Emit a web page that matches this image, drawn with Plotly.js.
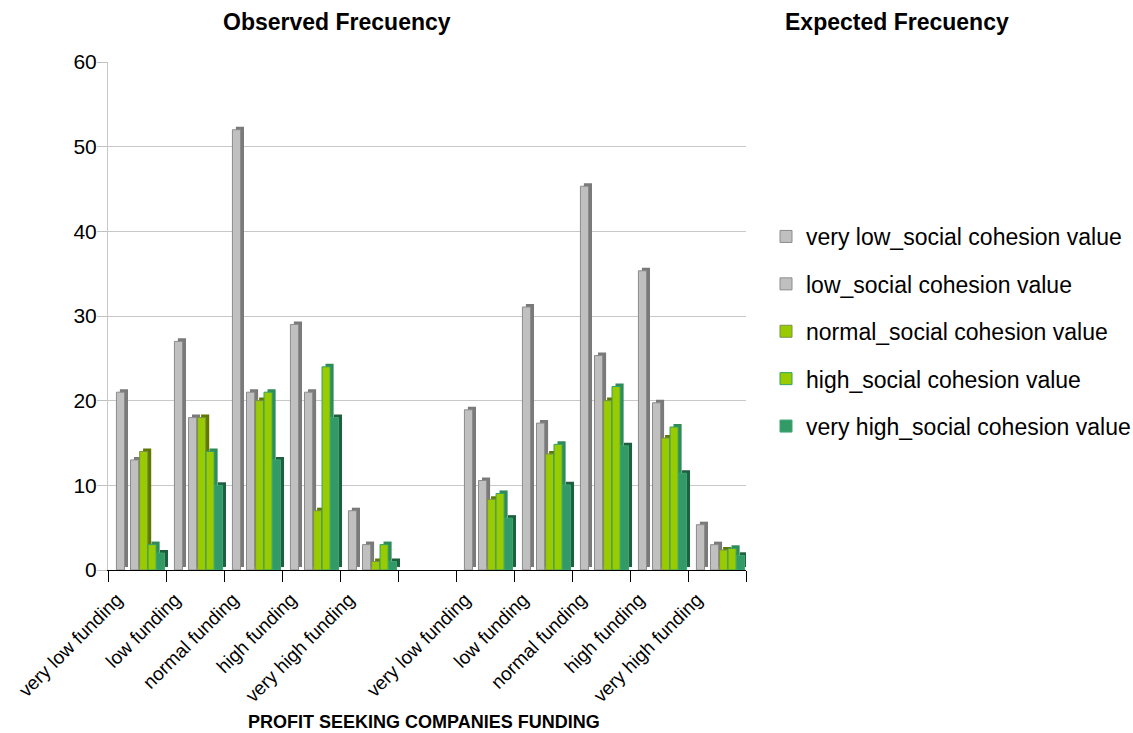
<!DOCTYPE html>
<html>
<head>
<meta charset="utf-8">
<script src="https://cdn.plot.ly/plotly-3.0.1.min.js"></script>
<style>
  html, body { margin: 0; padding: 0; background: #ffffff; }
  #chart { width: 1133px; height: 733px; }
</style>
</head>
<body>
<div id="chart"></div>
<script>
// Funding categories (same five levels for both panels)
const fundingLevels = ["very low funding", "low funding", "normal funding", "high funding", "very high funding"];

// Social cohesion series
const cohesionLevels = [
  "very low_social cohesion value",
  "low_social cohesion value",
  "normal_social cohesion value",
  "high_social cohesion value",
  "very high_social cohesion value"
];

// Observed frequencies, one array per cohesion level (ordered by funding level)
const observedVeryLow  = [21, 27, 52, 29, 7];
const observedLow      = [13, 18, 21, 21, 3];
const observedNormal   = [14, 18, 20, 7, 1];
const observedHigh     = [3, 14, 21, 24, 3];
const observedVeryHigh = [2, 10, 13, 18, 1];

// Expected frequencies, one array per cohesion level (ordered by funding level)
const expectedVeryLow  = [18.92, 31.06, 45.33, 35.34, 5.35];
const expectedLow      = [10.57, 17.35, 25.33, 19.75, 2.99];
const expectedNormal   = [8.35, 13.70, 20.00, 15.59, 2.36];
const expectedHigh     = [9.04, 14.84, 21.67, 16.89, 2.56];
const expectedVeryHigh = [6.12, 10.05, 14.67, 11.43, 1.73];

const observedSeries = [observedVeryLow, observedLow, observedNormal, observedHigh, observedVeryHigh];
const expectedSeries = [expectedVeryLow, expectedLow, expectedNormal, expectedHigh, expectedVeryHigh];

// Category slots on the x axis: observed block, an empty slot, expected block
const slotLabels = fundingLevels.concat([""], fundingLevels);
const observedSlots = fundingLevels.map((_, i) => i);
const expectedSlots = fundingLevels.map((_, i) => i + fundingLevels.length + 1);
const xSlots = observedSlots.concat(expectedSlots);

// Styling for each series: front face, outline, and the shaded side/top
const styles = [
  { face: "#c0c0c0", edge: "#8c8c8c", depth: "#7a7a7a", offset: -0.355 },
  { face: "#c0c0c0", edge: "#8c8c8c", depth: "#7a7a7a", offset: -0.112 },
  { face: "#99cc00", edge: "#7d8f4a", depth: "#5f7800", offset: 0.045 },
  { face: "#99cc00", edge: "#33a066", depth: "#2f8c58", offset: 0.19 },
  { face: "#339966", edge: "#3aa870", depth: "#1f5e3e", offset: 0.335 }
];

const barWidth = 0.14;
const depthX = 0.06;   // sideways shift of the shaded face, in category units
const depthY = 0.36;   // upward shift of the shaded face, in value units

const traces = [];
cohesionLevels.forEach((name, s) => {
  const values = observedSeries[s].concat(expectedSeries[s]);
  const st = styles[s];
  // shaded side and top of the bar
  traces.push({
    type: "bar",
    x: xSlots,
    y: values,
    base: depthY,
    offset: st.offset + depthX,
    width: barWidth,
    marker: { color: st.depth, line: { width: 0 } },
    showlegend: false,
    hoverinfo: "skip",
    xaxis: "x",
    yaxis: "y"
  });
  // front face
  traces.push({
    type: "bar",
    name: name,
    x: xSlots,
    y: values,
    offset: st.offset,
    width: barWidth,
    marker: { color: st.face, line: { color: st.edge, width: 1 } },
    legendgroup: "g" + s,
    xaxis: "x",
    yaxis: "y"
  });
});

// invisible trace carrying the boundary tick marks
traces.push({
  type: "scatter",
  x: [-0.5, slotLabels.length - 0.5],
  y: [0, 0],
  mode: "none",
  showlegend: false,
  hoverinfo: "skip",
  xaxis: "x2",
  yaxis: "y"
});

const FONT = "Liberation Sans, Arial, sans-serif";
const plotLeft = 108, plotRight = 746, plotTop = 62, plotBottom = 570;
const plotW = plotRight - plotLeft, plotH = plotBottom - plotTop;
const px2x = px => (px - plotLeft) / plotW;
const px2y = py => (plotBottom - py) / plotH;

const boundaryTicks = [];
for (let i = 0; i <= slotLabels.length; i++) boundaryTicks.push(i - 0.5);

const layout = {
  width: 1133,
  height: 733,
  margin: { l: plotLeft, r: 1133 - plotRight, t: plotTop, b: 733 - plotBottom, pad: 0 },
  paper_bgcolor: "#ffffff",
  plot_bgcolor: "#ffffff",
  barmode: "overlay",
  font: { family: FONT, color: "#000000" },
  xaxis: {
    range: [-0.5, slotLabels.length - 0.5],
    tickmode: "array",
    tickvals: slotLabels.map((_, i) => i),
    ticktext: slotLabels,
    tickangle: -45,
    ticks: "",
    ticklabelstandoff: 10,
    ticklabelshift: -20,
    tickfont: { family: FONT, size: 19, color: "#000000" },
    showgrid: false,
    zeroline: false,
    showline: true,
    linecolor: "#000000",
    linewidth: 1,
    fixedrange: true
  },
  xaxis2: {
    overlaying: "x",
    matching: "x",
    range: [-0.5, slotLabels.length - 0.5],
    tickmode: "array",
    tickvals: boundaryTicks,
    ticks: "outside",
    ticklen: 11,
    tickcolor: "#000000",
    showticklabels: false,
    showgrid: false,
    zeroline: false,
    showline: false
  },
  yaxis: {
    range: [0, 60],
    tickmode: "array",
    tickvals: [0, 10, 20, 30, 40, 50, 60],
    ticks: "outside",
    ticklen: 10,
    ticklabelstandoff: -4,
    tickcolor: "#c0c0c0",
    tickfont: { family: FONT, size: 21, color: "#000000" },
    showgrid: true,
    gridcolor: "#c8c8c8",
    gridwidth: 1,
    zeroline: false,
    showline: true,
    linecolor: "#c8c8c8",
    fixedrange: true
  },
  legend: {
    xref: "container",
    yref: "container",
    x: 766 / 1133,
    y: 1 - 215 / 733,
    xanchor: "left",
    yanchor: "top",
    traceorder: "grouped",
    tracegroupgap: 14.5,
    font: { family: FONT, size: 23, color: "#000000" },
    bgcolor: "rgba(0,0,0,0)",
    itemwidth: 30
  },
  annotations: [
    {
      text: "<b>Observed Frecuency</b>",
      xref: "paper", yref: "paper",
      x: px2x(337), y: px2y(22),
      xanchor: "center", yanchor: "middle",
      showarrow: false,
      font: { family: FONT, size: 23, color: "#000000" }
    },
    {
      text: "<b>Expected Frecuency</b>",
      xref: "paper", yref: "paper",
      x: px2x(897), y: px2y(22),
      xanchor: "center", yanchor: "middle",
      showarrow: false,
      font: { family: FONT, size: 23, color: "#000000" }
    },
    {
      text: "<b>PROFIT SEEKING COMPANIES FUNDING</b>",
      xref: "paper", yref: "paper",
      x: px2x(424), y: px2y(722),
      xanchor: "center", yanchor: "middle",
      showarrow: false,
      font: { family: FONT, size: 18, color: "#000000" }
    }
  ]
};

Plotly.newPlot("chart", traces, layout, { displayModeBar: false, staticPlot: true });
</script>
</body>
</html>
